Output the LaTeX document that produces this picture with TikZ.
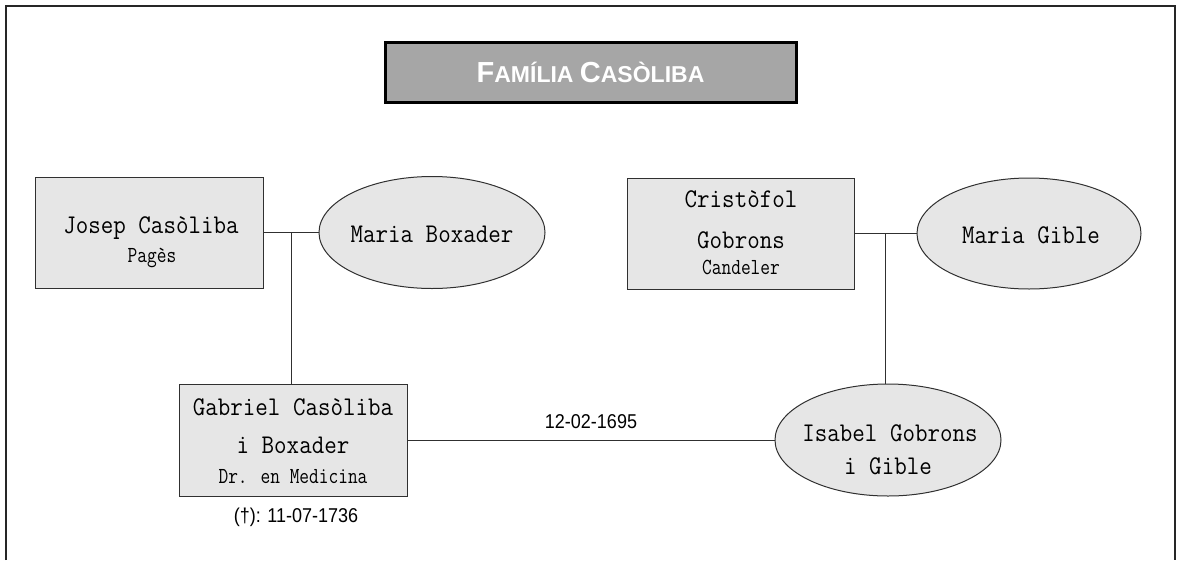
\documentclass[tikz,border=0pt]{standalone}
\usepackage{fontspec}
\usetikzlibrary{shapes.geometric,calc}
\setmainfont{Liberation Serif}
\newfontfamily\monoface[FakeStretch=0.9]{Latin Modern Mono}
\newfontfamily\subface[FakeStretch=0.82]{Latin Modern Mono}
\newfontfamily\narrowsans[FakeStretch=0.9]{Liberation Sans}
\newfontfamily\titleface{Liberation Sans}
\definecolor{boxfill}{HTML}{E6E6E6}
\definecolor{titlefill}{HTML}{A6A6A6}
\definecolor{edge}{HTML}{303030}
\begin{document}
\begin{tikzpicture}[x=1pt,y=-1pt,
  person/.style={draw=edge,line width=1pt,fill=boxfill,rectangle,inner sep=0pt},
  spouse/.style={draw=edge,line width=1pt,fill=boxfill,ellipse,inner sep=0pt},
  link/.style={draw=edge,line width=1pt},
  nametext/.style={font=\monoface\fontsize{27}{27}\selectfont,inner sep=0pt,anchor=base},
  subtext/.style={font=\subface\fontsize{23}{23}\selectfont,inner sep=0pt,anchor=base},
  datelbl/.style={font=\narrowsans\fontsize{20}{20}\selectfont,inner sep=0pt,anchor=base}]
\useasboundingbox (0,0) rectangle (1177,560);
% outer frame
\draw[line width=2pt,color=black!85] (6,560) -- (6,6) -- (1175,6) -- (1175,560);
% title
\node[draw=black,line width=3pt,fill=titlefill,minimum width=411pt,minimum height=60pt,inner sep=0pt,
  font=\titleface\bfseries,text=white] (title) at (590.5,72)
  {{\fontsize{29}{29}\selectfont F}{\fontsize{23}{23}\selectfont AMÍLIA\ }{\fontsize{29}{29}\selectfont C}{\fontsize{23}{23}\selectfont ASÒLIBA}};
% person shapes
\node[person,minimum width=228pt,minimum height=111pt] (josep) at (149,232.5) {};
\node[spouse,minimum width=226pt,minimum height=112pt] (mboxader) at (432,232.5) {};
\node[person,minimum width=227pt,minimum height=111pt] (cristofol) at (741,233.5) {};
\node[spouse,minimum width=224pt,minimum height=111pt] (mgible) at (1029,233.5) {};
\node[person,minimum width=228pt,minimum height=112pt] (gabriel) at (293,440) {};
\node[spouse,minimum width=226pt,minimum height=112pt] (isabel) at (888,440) {};
% texts
\node[nametext] (josepn) at (151,233) {Josep Casòliba};
\node[subtext] (josepo) at (152,262) {Pagès};
\node[nametext] (mboxadern) at (432,242) {Maria Boxader};
\node[nametext] (cristofoln) at (741,207) {Cristòfol};
\node[nametext] (cristofolg) at (741,248) {Gobrons};
\node[subtext] (cristofolo) at (741,274) {Candeler};
\node[nametext] (mgiblen) at (1031,243) {Maria Gible};
\node[nametext] (gabrieln) at (293,415) {Gabriel Casòliba};
\node[nametext] (gabrielb) at (293,453) {i Boxader};
\node[subtext] (gabrielo) at (293,483) {Dr. en Medicina};
\node[nametext] (isabeln) at (890,441) {Isabel Gobrons};
\node[nametext] (isabelg) at (888,474) {i Gible};
% connectors
\coordinate (j1) at ($(josep.east)!0.5!(mboxader.west)$);
\coordinate (j2) at ($(cristofol.east)!0.5!(mgible.west)$);
\path[link] (josep.east) -- (mboxader.west);
\path[link] (cristofol.east) -- (mgible.west);
\path[link] (j1) -- (j1 |- gabriel.north);
\path[link] (j2) -- (j2 |- isabel.north);
\path[link] (gabriel.east) -- (isabel.west);
\node[datelbl] (wed) at ($(gabriel.east)!0.5!(isabel.west)+(0,-12)$) {12-02-1695};
\node[datelbl] (death) at (296,522) {(†): 11-07-1736};
\end{tikzpicture}
\end{document}
